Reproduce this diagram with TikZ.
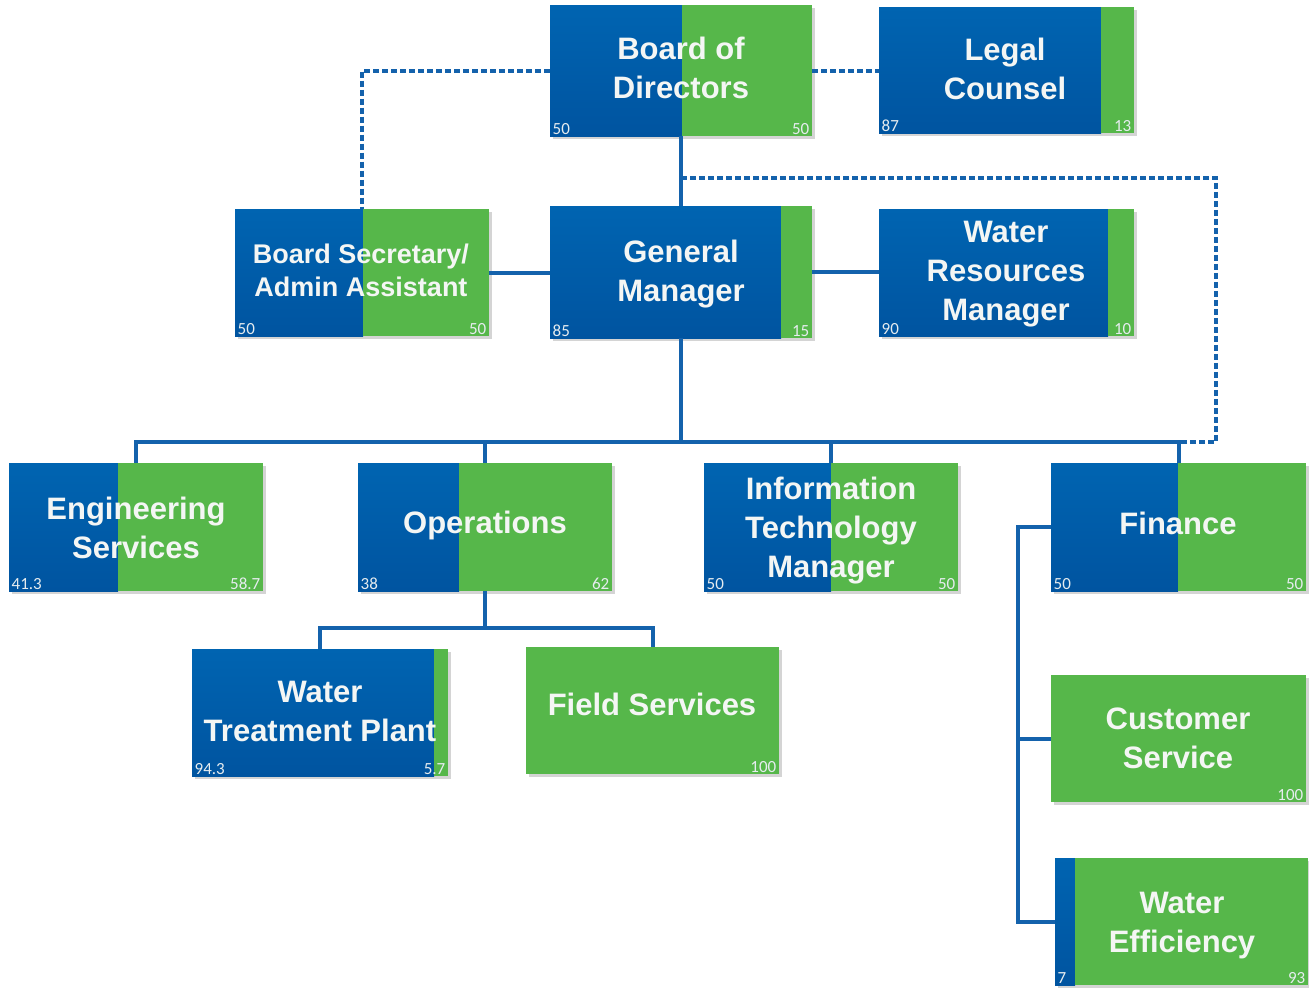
\documentclass[tikz,border=0pt]{standalone}
\usepackage{fontspec}
\setmainfont{Liberation Sans}
\newfontfamily\numfont{Carlito}
\usetikzlibrary{calc}
\definecolor{bluetop}{HTML}{0064B1}
\definecolor{bluebot}{HTML}{0054A0}
\definecolor{grn}{HTML}{56B74A}
\definecolor{linec}{HTML}{1462AC}
\definecolor{shadowc}{HTML}{D4D4D4}
\definecolor{txtc}{HTML}{F4F6F4}
\definecolor{numc}{HTML}{E6ECEF}
\tikzset{
  boxtxt/.style={text=txtc,font=\fontsize{31}{39}\selectfont\bfseries,align=center,inner sep=0pt},
  smalltxt/.style={text=txtc,font=\fontsize{27}{33}\selectfont\bfseries,align=center,inner sep=0pt},
  numtxt/.style={text=numc,font=\numfont\fontsize{17}{17}\selectfont,inner sep=1.5pt},
  solidline/.style={draw=linec,line width=4pt},
  dotline/.style={draw=linec,line width=4pt,dash pattern=on 6pt off 3pt},
}
% name, x1, y1, x2, y2, split, style+text, left number, right number
\newcommand{\obox}[9]{%
  \fill[shadowc] (#2+3,#3+3) rectangle (#4+3,#5+3);
  \shade[top color=bluetop,bottom color=bluebot] (#2,#3) rectangle (#6,#5);
  \fill[grn] (#6,#3) rectangle (#4,#5);
  \node[anchor=south west,numtxt] at (#2+1,#5) {#8};
  \node[anchor=south east,numtxt] at (#4-1,#5) {#9};
  \pgfmathsetmacro\bw{#4-#2}\pgfmathsetmacro\bh{#5-#3}%
  \node[minimum width=\bw pt,minimum height=\bh pt,inner sep=0pt] (#1) at ({(#2+#4)/2},{(#3+#5)/2}) {};
  #7
}
\begin{document}
\begin{tikzpicture}[x=1pt,y=-1pt]
\useasboundingbox (0,0) rectangle (1309,988);
\fill[white] (0,0) rectangle (1309,988);

\obox{bod}{550}{5}{812}{136}{682}{\node[boxtxt] at (681,68) {Board of\\Directors};}{50}{50}
\obox{legal}{879}{7}{1134}{133}{1101}{\node[boxtxt] at (1005,69) {Legal\\Counsel};}{87}{13}
\obox{sec}{235}{209}{489}{336}{363}{\node[smalltxt] at (361,270) {Board Secretary/\\Admin Assistant};}{50}{50}
\obox{gm}{550}{206}{812}{338}{781}{\node[boxtxt] at (681,274) {General\\Manager};}{85}{15}
\obox{wrm}{879}{209}{1134}{336}{1108}{\node[boxtxt] at (1006,274) {Water\\Resources\\Manager};}{90}{10}
\obox{eng}{9}{463}{263}{591}{118}{\node[boxtxt] at (136,528) {Engineering\\Services};}{41.3}{58.7}
\obox{ops}{358}{463}{612}{591}{459}{\node[boxtxt] at (485,525) {Operations};}{38}{62}
\obox{it}{704}{463}{958}{591}{831}{\node[boxtxt] at (831,531) {Information\\Technology\\Manager};}{50}{50}
\obox{fin}{1051}{463}{1306}{591}{1178}{\node[boxtxt] at (1178,523) {Finance};}{50}{50}
\obox{wtp}{192}{649}{448}{776}{434}{\node[boxtxt] at (320,711) {Water\\Treatment Plant};}{94.3}{5.7}
\obox{fs}{526}{647}{779}{774}{526}{\node[boxtxt] at (652,704) {Field Services};}{}{100}
\obox{cs}{1051}{675}{1306}{802}{1051}{\node[boxtxt] at (1178,738) {Customer\\Service};}{}{100}
\obox{we}{1055}{858}{1308}{985}{1075}{\node[boxtxt] at (1182,926) {Water\\Efficiency};}{7}{93}

\coordinate (bus) at (0,442);
\coordinate (bus2) at (0,628);
\coordinate (dr) at (1216,0);
\coordinate (fl) at (1018,0);

% dotted links
\draw[dotline] (bod.west) -| (sec.north);
\draw[dotline] (bod.east) -- (bod.east -| legal.west);
\draw[dotline] ($(bod.south)!0.6!(gm.north)$) -| (dr |- bus) -- (fin.north |- bus);

% solid links
\draw[solidline] (bod.south) -- (gm.north);
\draw[solidline] (sec.east) -- (sec.east -| gm.west);
\draw[solidline] (gm.east) -- (gm.east -| wrm.west);
\draw[solidline] (gm.south) -- (gm.south |- bus);
\draw[solidline] (eng.north) |- (fin.north |- bus) -- (fin.north);
\draw[solidline] (ops.north) -- (ops.north |- bus);
\draw[solidline] (it.north) -- (it.north |- bus);
\draw[solidline] (ops.south) -- (ops.south |- bus2);
\draw[solidline] (wtp.north) |- (fs.north |- bus2) -- (fs.north);
\draw[solidline] (fin.west) -| (fl |- we.west) -- (we.west);
\draw[solidline] (fl |- cs.west) -- (cs.west);
\end{tikzpicture}
\end{document}
